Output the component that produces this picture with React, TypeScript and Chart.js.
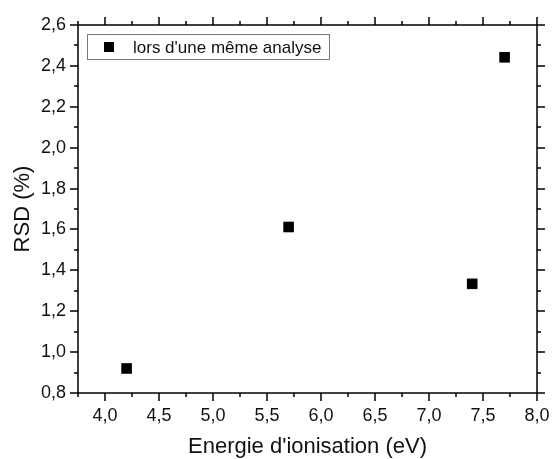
import React, { useEffect, useRef } from "react";
import { Chart, registerables } from "chart.js";

Chart.register(...registerables);

const SERIES_LABEL = "lors d'une même analyse";
const ENERGY_EV = [4.2, 5.7, 7.4, 7.7];
const RSD_PCT = [0.92, 1.612, 1.334, 2.442];
const X_TICKS = [4.0, 4.5, 5.0, 5.5, 6.0, 6.5, 7.0, 7.5, 8.0];
const Y_TICKS = [0.8, 1.0, 1.2, 1.4, 1.6, 1.8, 2.0, 2.2, 2.4, 2.6];
const X_TITLE = "Energie d'ionisation (eV)";
const Y_TITLE = "RSD (%)";

const FONT = "'Liberation Sans', Arial, sans-serif";

const fmt = (v: number) => v.toFixed(1).replace(".", ",");

const framePlugin = {
  id: "frameTicks",
  afterDraw(chart: any) {
    const ctx = chart.ctx as CanvasRenderingContext2D;
    const { left, right, top, bottom } = chart.chartArea;
    const xs = chart.scales.x;
    const ys = chart.scales.y;
    ctx.save();
    ctx.strokeStyle = "#000";
    ctx.lineWidth = 1.5;
    ctx.strokeRect(left, top, right - left, bottom - top);
    const major = 8;
    const minor = 4;
    const xMinor: number[] = [];
    for (let i = 0; i < X_TICKS.length - 1; i++) xMinor.push((X_TICKS[i] + X_TICKS[i + 1]) / 2);
    xMinor.push(X_TICKS[0] - (X_TICKS[1] - X_TICKS[0]) / 2);
    const yMinor: number[] = [];
    for (let i = 0; i < Y_TICKS.length - 1; i++) yMinor.push((Y_TICKS[i] + Y_TICKS[i + 1]) / 2);
    ctx.beginPath();
    const xTick = (v: number, len: number) => {
      const p = Math.round(xs.getPixelForValue(v));
      if (p < left - 0.5 || p > right + 0.5) return;
      ctx.moveTo(p, bottom);
      ctx.lineTo(p, bottom + len);
      ctx.moveTo(p, top);
      ctx.lineTo(p, top - len);
    };
    const yTick = (v: number, len: number) => {
      const p = Math.round(ys.getPixelForValue(v));
      if (p < top - 0.5 || p > bottom + 0.5) return;
      ctx.moveTo(left, p);
      ctx.lineTo(left - len, p);
      ctx.moveTo(right, p);
      ctx.lineTo(right + len, p);
    };
    X_TICKS.forEach((v) => xTick(v, major));
    xMinor.forEach((v) => xTick(v, minor));
    Y_TICKS.forEach((v) => yTick(v, major));
    yMinor.forEach((v) => yTick(v, minor));
    ctx.stroke();

    // legend
    const lx = left + 9;
    const ly = top + 9;
    const lw = 242;
    const lh = 25;
    ctx.fillStyle = "#fff";
    ctx.fillRect(lx, ly, lw, lh);
    ctx.strokeStyle = "#777";
    ctx.lineWidth = 1;
    ctx.strokeRect(lx + 0.5, ly + 0.5, lw, lh);
    ctx.fillStyle = "#000";
    const cy = ly + lh / 2 + 0.5;
    ctx.fillRect(lx + 17, cy - 5, 10, 10);
    ctx.fillStyle = "#111";
    ctx.font = `17px ${FONT}`;
    ctx.textBaseline = "middle";
    ctx.textAlign = "left";
    ctx.fillText(chart.data.datasets[0].label, lx + 46, cy + 1);
    ctx.restore();
  },
};

export default function App() {
  const ref = useRef<HTMLCanvasElement | null>(null);
  useEffect(() => {
    if (!ref.current) return;
    const chart = new Chart(ref.current, {
      type: "scatter",
      data: {
        datasets: [
          {
            label: SERIES_LABEL,
            data: ENERGY_EV.map((x, i) => ({ x, y: RSD_PCT[i] })),
            pointStyle: "rect",
            pointRadius: 7.5,
            pointHoverRadius: 7.5,
            pointBorderWidth: 0,
            backgroundColor: "#000",
            borderColor: "#000",
          },
        ],
      },
      options: {
        responsive: false,
        animation: false,
        layout: { padding: { top: 25, right: 15, left: 0, bottom: 0 } },
        plugins: { legend: { display: false }, tooltip: { enabled: false } },
        scales: {
          x: {
            type: "linear",
            position: "bottom",
            min: 3.75,
            max: 8.0,
            grid: { display: false, drawTicks: false },
            border: { display: false },
            afterBuildTicks: (s: any) => {
              s.ticks = X_TICKS.map((v) => ({ value: v }));
            },
            afterFit: (s: any) => {
              s.height = 66;
              s.paddingLeft = 0;
              s.paddingRight = 0;
            },
            ticks: {
              padding: 12,
              color: "#111",
              font: { family: FONT, size: 18 },
              maxRotation: 0,
              autoSkip: false,
              callback: (v: any) => fmt(Number(v)),
            },
            title: {
              display: true,
              text: X_TITLE,
              color: "#111",
              font: { family: FONT, size: 22 },
              padding: { top: 0, bottom: -1 },
            },
          },
          y: {
            type: "linear",
            position: "left",
            min: 0.8,
            max: 2.6,
            grid: { display: false, drawTicks: false },
            border: { display: false },
            afterBuildTicks: (s: any) => {
              s.ticks = Y_TICKS.map((v) => ({ value: v }));
            },
            afterFit: (s: any) => {
              s.width = 78;
              s.paddingTop = 0;
              s.paddingBottom = 0;
            },
            ticks: {
              padding: 12,
              color: "#111",
              font: { family: FONT, size: 18 },
              autoSkip: false,
              callback: (v: any) => fmt(Number(v)),
            },
            title: {
              display: true,
              text: Y_TITLE,
              color: "#111",
              font: { family: FONT, size: 22 },
              padding: { top: 10, bottom: 0 },
            },
          },
        },
      },
      plugins: [framePlugin],
    } as any);
    return () => chart.destroy();
  }, []);
  return (
    <div style={{ position: "fixed", left: 0, top: 0, width: 552, height: 459, background: "#fff" }}>
      <canvas ref={ref} width={552} height={459} style={{ display: "block" }} />
    </div>
  );
}
